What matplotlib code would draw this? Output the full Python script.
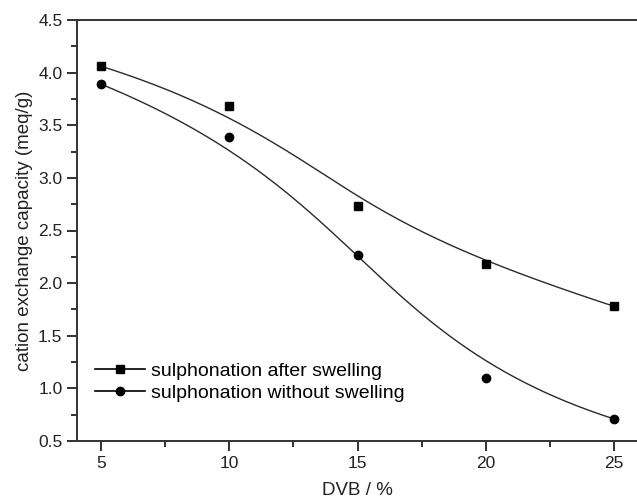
import numpy as np
import matplotlib
matplotlib.use('Agg')
import matplotlib.pyplot as plt
from matplotlib.ticker import MultipleLocator

plt.rcParams['font.family'] = ['Liberation Sans', 'DejaVu Sans']

# DVB content (%) and cation exchange capacity (meq/g)
dvb = [5, 10, 15, 20, 25]
after_swelling = [4.06, 3.68, 2.73, 2.18, 1.78]
without_swelling = [3.89, 3.39, 2.27, 1.10, 0.71]


# bSplineCurve() - clamped cubic B-spline with the data points as control points
# (curve goes through the end points only, like a "B-spline" connect line)
def basis(i, k, t, u):
    if k == 0:
        if u[i] <= t < u[i + 1] or (t == u[-1] and u[i] < u[i + 1] == u[-1]):
            return 1.0
        return 0.0
    a = 0.0
    if u[i + k] > u[i]:
        a = (t - u[i]) / (u[i + k] - u[i]) * basis(i, k - 1, t, u)
    b = 0.0
    if u[i + k + 1] > u[i + 1]:
        b = (u[i + k + 1] - t) / (u[i + k + 1] - u[i + 1]) * basis(i + 1, k - 1, t, u)
    return a + b


def bSplineCurve(px, py, k=3, n=300):
    m = len(px)
    inner = list(range(1, m - k))
    u = [0] * (k + 1) + inner + [m - k] * (k + 1)
    ts = np.linspace(0, m - k, n)
    cx, cy = [], []
    for t in ts:
        w = np.array([basis(i, k, t, u) for i in range(m)])
        cx.append(np.dot(w, px))
        cy.append(np.dot(w, py))
    return np.array(cx), np.array(cy)


fig = plt.figure(figsize=(6.37, 5.0), dpi=100)
ax = fig.add_axes([0.121, 0.118, 0.879, 0.842])

for ys in (after_swelling, without_swelling):
    cx, cy = bSplineCurve(np.array(dvb, float), np.array(ys))
    ax.plot(cx, cy, color='#2a2a2a', lw=1.0)

ax.plot(dvb, after_swelling, ls='none', marker='s', ms=6, color='black')
ax.plot(dvb, without_swelling, ls='none', marker='o', ms=6, color='black')

# legend handles: line with marker
h1, = ax.plot([], [], color='black', marker='s', ms=6, lw=1.2)
h2, = ax.plot([], [], color='black', marker='o', ms=6, lw=1.2)
ax.legend([h1, h2], ['sulphonation after swelling', 'sulphonation without swelling'],
          loc='center left', bbox_to_anchor=(0.0, 0.14), frameon=False,
          fontsize=14, handlelength=2.6, handletextpad=0.3, labelspacing=0.25,
          borderaxespad=0.5)

ax.set_xlim(4.06, 25.9)
ax.set_ylim(0.5, 4.5)
ax.set_xticks([5, 10, 15, 20, 25])
ax.set_yticks([0.5, 1.0, 1.5, 2.0, 2.5, 3.0, 3.5, 4.0, 4.5])
ax.xaxis.set_minor_locator(MultipleLocator(2.5))
ax.yaxis.set_minor_locator(MultipleLocator(0.25))
ax.tick_params(which='both', direction='out', top=False, right=False,
               labelsize=12.5, colors='#222222', width=1.3)
ax.tick_params(which='major', length=7)
ax.tick_params(which='minor', length=4.3)
for s in ax.spines.values():
    s.set_linewidth(1.4)
    s.set_color('#333333')
ax.spines['right'].set_visible(False)  # cut off at the image edge

ax.set_xlabel('DVB / %', fontsize=13.5, color='#222222', labelpad=8)
ax.set_ylabel('cation exchange capacity (meq/g)', fontsize=13.5, color='#222222', labelpad=4)

fig.savefig('out.png', dpi=100)
